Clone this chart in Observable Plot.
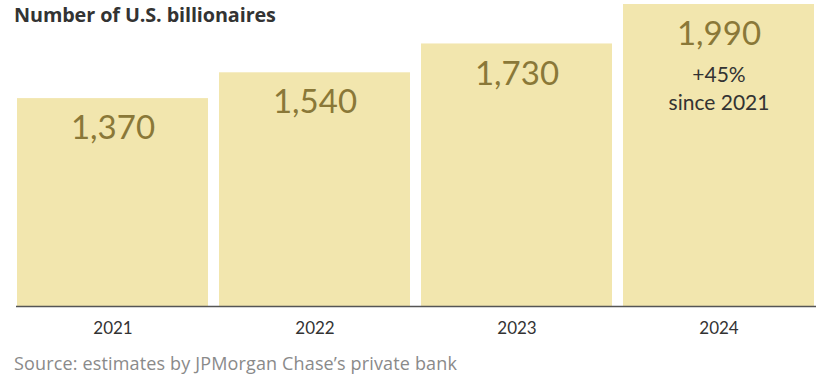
<!DOCTYPE html>
<html>
<head>
<meta charset="utf-8">
<script src="https://cdn.jsdelivr.net/npm/d3@7"></script>
<script src="https://cdn.jsdelivr.net/npm/@observablehq/plot@0.6"></script>
<style>
  html, body { margin: 0; padding: 0; background: #fff; }
  #wrap { position: relative; width: 829px; height: 384px; font-family: Lato, "Noto Sans", sans-serif; }
  #title { position: absolute; left: 14px; top: 1px; font-family: "Open Sans", sans-serif; font-size: 19.8px; font-weight: 700; letter-spacing: -0.1px; color: #333; z-index: 2; }
  #caption { position: absolute; left: 14px; top: 351px; font-family: "Open Sans", sans-serif; font-size: 18px; letter-spacing: 0.15px; color: #8a8a8a; }
  #chart { position: absolute; left: 0; top: 0; }
</style>
</head>
<body>
<div id="wrap">
  <div id="chart"></div>
  <div id="title">Number of U.S. billionaires</div>
  <div id="caption">Source: estimates by JPMorgan Chase’s private bank</div>
</div>
<script>
const years = ["2021", "2022", "2023", "2024"];
const counts = [1370, 1540, 1730, 1990];
const valueLabels = ["1,370", "1,540", "1,730", "1,990"];
const noteYear = "2024";
const noteLine1 = "+45%";
const noteLine2 = "since 2021";

const data = years.map((y, i) => ({year: y, count: counts[i], label: valueLabels[i]}));
const note = data.filter(d => d.year === noteYear);

const chart = Plot.plot({
  width: 829,
  height: 345,
  marginTop: 4,
  marginBottom: 39,
  marginLeft: 16,
  marginRight: 13,
  style: {fontFamily: "Lato, 'Noto Sans', sans-serif", background: "transparent"},
  x: {domain: years, paddingInner: 0.054, paddingOuter: 0, axis: null},
  y: {domain: [0, 1990], axis: null},
  marks: [
    Plot.barY(data, {x: "year", y: "count", fill: "#f2e6ae"}),
    Plot.ruleY([0], {stroke: "#555", strokeWidth: 1.5}),
    Plot.text(data, {x: "year", y: "count", text: "label", dy: 30, fontSize: 33, fill: "#8a7838", lineAnchor: "middle"}),
    Plot.text(note, {x: "year", y: "count", text: () => noteLine1, dy: 71, fontSize: 21, fill: "#333"}),
    Plot.text(note, {x: "year", y: "count", text: () => noteLine2, dy: 99, fontSize: 21, fill: "#333"}),
    Plot.axisX({domain: years, tickSize: 0, tickPadding: 15, fontSize: 17, color: "#333", label: null})
  ]
});
document.getElementById("chart").appendChild(chart);
</script>
</body>
</html>
